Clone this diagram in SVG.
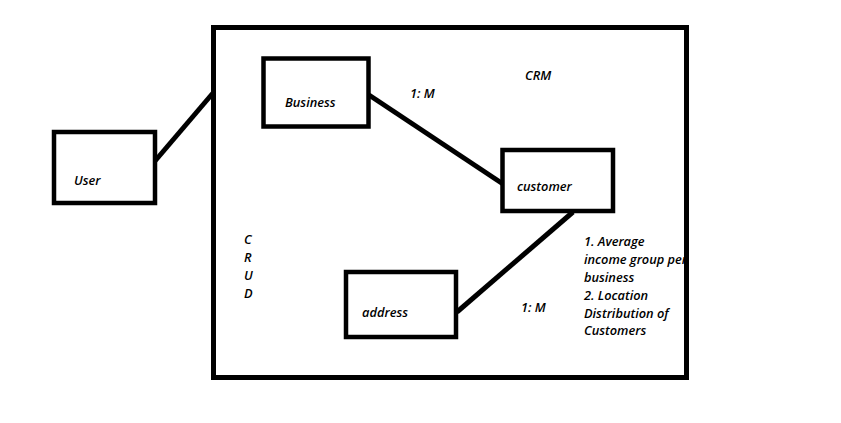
<svg xmlns="http://www.w3.org/2000/svg" width="841" height="423" viewBox="0 0 841 423">
<style>
.box{fill:#fff;stroke:#000;stroke-width:4.5}
.ln{stroke:#000;stroke-width:5;fill:none}
text{font-family:"Open Sans","Noto Sans",sans-serif;font-style:italic;font-weight:600;font-size:12.8px;fill:#000}
</style>
<rect width="841" height="423" fill="#fff"/>
<g id="connectors">
<line class="ln" x1="155" y1="161" x2="213" y2="93"/>
<line class="ln" x1="369" y1="95" x2="503" y2="184"/>
<line class="ln" x1="573" y1="212" x2="457" y2="312"/>
</g>
<g id="notes">
<text x="410" y="98">1: M</text>
<text x="521" y="312">1: M</text>
<text x="525" y="80">CRM</text>
<text x="244" y="244">C</text>
<text x="244" y="262">R</text>
<text x="244" y="280">U</text>
<text x="244" y="298">D</text>
<text x="584" y="246">1. Average</text>
<text x="584" y="264">income group per</text>
<text x="584" y="282">business</text>
<text x="584" y="300">2. Location</text>
<text x="584" y="318">Distribution of</text>
<text x="584" y="335">Customers</text>
</g>
<g id="crm">
<rect x="213.5" y="27.5" width="473" height="350" fill="none" stroke="#000" stroke-width="5"/>
</g>
<g id="user">
<rect class="box" x="54" y="132" width="101" height="71"/>
<text x="74" y="185">User</text>
</g>
<g id="business">
<rect class="box" x="263.5" y="58.5" width="105" height="68"/>
<text x="285" y="107">Business</text>
</g>
<g id="customer">
<rect class="box" x="502.5" y="150" width="110.5" height="61"/>
<text x="517" y="191">customer</text>
</g>
<g id="address">
<rect class="box" x="346" y="272" width="110" height="65"/>
<text x="362" y="317">address</text>
</g>
</svg>
